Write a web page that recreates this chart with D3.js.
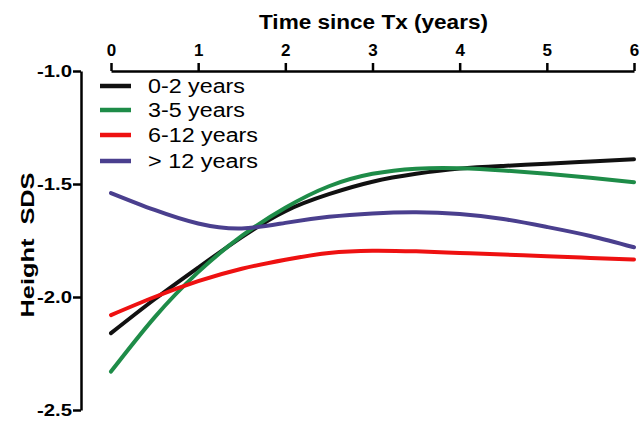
<!DOCTYPE html>
<html><head><meta charset="utf-8">
<script src="https://cdn.jsdelivr.net/npm/d3@7"></script>
<style>body{margin:0;background:#fff}svg{display:block}text{font-family:Arial,"Liberation Sans",sans-serif;fill:#000}</style>
</head><body>
<svg id="c" width="641" height="423"></svg>
<script>
const times = [0,0.5,1,1.5,2,2.5,3,3.5,4,4.5,5,5.5,6];
const seriesNames = ["0-2 years","3-5 years","6-12 years","> 12 years"];
const seriesColors = ["#111111","#1e8c48","#ee1111","#4a3f8e"];
const black02 = [-2.16,-2.01,-1.87,-1.735,-1.62,-1.545,-1.49,-1.455,-1.432,-1.42,-1.41,-1.40,-1.39];
const green35 = [-2.33,-2.09,-1.89,-1.73,-1.605,-1.51,-1.455,-1.432,-1.43,-1.44,-1.455,-1.472,-1.492];
const red612  = [-2.08,-2.0,-1.93,-1.875,-1.835,-1.805,-1.795,-1.798,-1.805,-1.812,-1.82,-1.827,-1.834];
const purple12 = [-1.54,-1.615,-1.675,-1.697,-1.672,-1.645,-1.63,-1.625,-1.633,-1.655,-1.69,-1.73,-1.78];
const seriesValues = [black02, green35, red612, purple12];
const xTicks = [0,1,2,3,4,5,6];
const yTicks = [-1.0,-1.5,-2.0,-2.5];

const svg = d3.select("#c");
const x = d3.scaleLinear().domain([0,6]).range([111,634]);
const y = d3.scaleLinear().domain([-1.0,-2.5]).range([71,410]);

// top x axis
const xa = svg.append("g").attr("transform","translate(0,71)")
  .call(d3.axisTop(x).tickValues(xTicks).tickSize(8).tickSizeOuter(0).tickPadding(7).tickFormat(d3.format("d")));
xa.select(".domain").attr("stroke","#000").attr("stroke-width",2.5);
xa.selectAll(".tick line").attr("stroke","#000").attr("stroke-width",2.5);
xa.selectAll(".tick text").attr("font-size",17).attr("font-weight","bold").attr("font-family","Arial,'Liberation Sans',sans-serif").attr("fill","#000");

// left y axis
const ya = svg.append("g").attr("transform","translate(81,0)")
  .call(d3.axisLeft(y).tickValues(yTicks).tickSize(8).tickSizeOuter(0).tickPadding(1).tickFormat(d3.format(".1f")));
ya.select(".domain").attr("stroke","#000").attr("stroke-width",2.5);
ya.selectAll(".tick line").attr("stroke","#000").attr("stroke-width",2.5);
ya.selectAll(".tick text").attr("font-size",16).attr("font-weight","bold").attr("font-family","Arial,'Liberation Sans',sans-serif").attr("fill","#000")
  .attr("textLength",35).attr("lengthAdjust","spacingAndGlyphs").text(d=>d3.format(".1f")(d).replace("−","-"));

// titles
svg.append("text").attr("x",259).attr("y",29).attr("font-size",20).attr("font-weight","bold")
  .attr("textLength",229).attr("lengthAdjust","spacingAndGlyphs").text("Time since Tx (years)");
svg.append("text").attr("transform","translate(34,245) rotate(-90)").attr("text-anchor","middle")
  .attr("font-size",19).attr("font-weight","bold")
  .attr("textLength",145).attr("lengthAdjust","spacingAndGlyphs").text("Height\u00a0 SDS");

// lines
const line = d3.line().x((d,i)=>x(times[i])).y(d=>y(d)).curve(d3.curveNatural);
seriesValues.forEach((vals,k)=>{
  svg.append("path").datum(vals).attr("d",line).attr("fill","none")
    .attr("stroke",seriesColors[k]).attr("stroke-width",4).attr("stroke-linecap","round");
});

// legend
const legY = [86,110,135,161];
const legW = [97,97,110,110];
seriesNames.forEach((n,k)=>{
  svg.append("line").attr("x1",100).attr("x2",131).attr("y1",legY[k]).attr("y2",legY[k])
    .attr("stroke",seriesColors[k]).attr("stroke-width",4.5);
  svg.append("text").attr("x",148).attr("y",legY[k]+7).attr("font-size",20)
    .attr("textLength",legW[k]).attr("lengthAdjust","spacingAndGlyphs").text(n);
});
</script>
</body></html>
